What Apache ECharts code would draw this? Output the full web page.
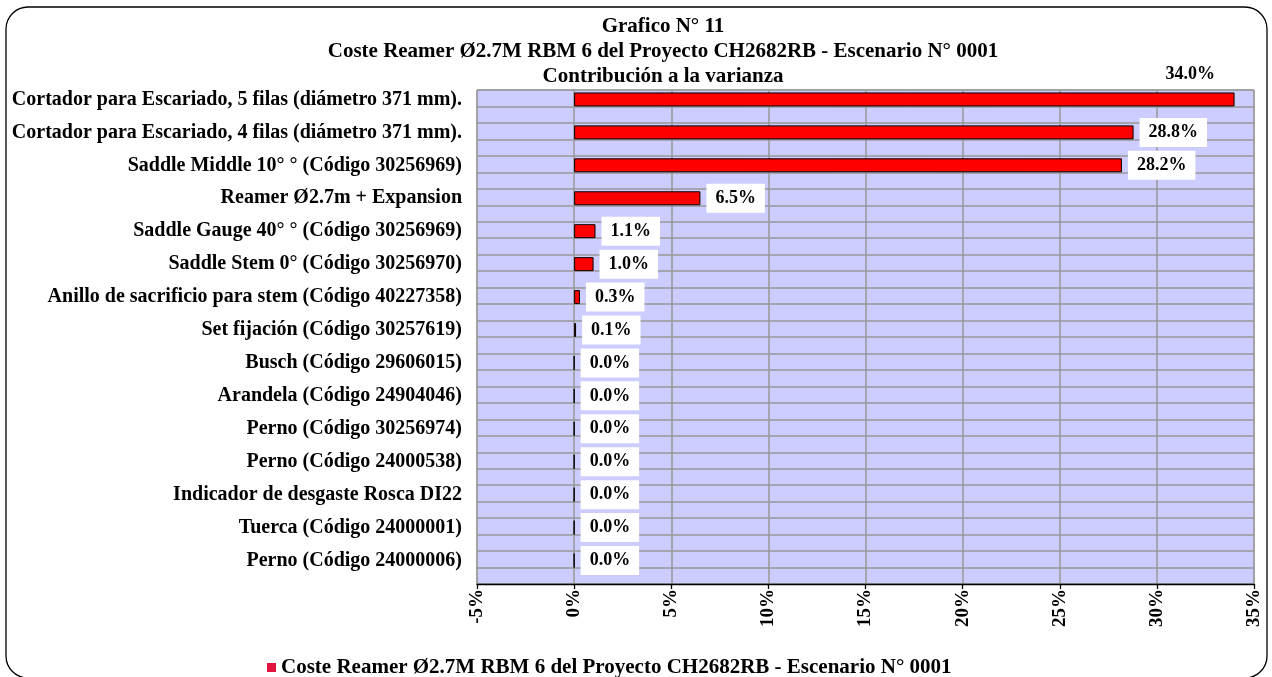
<!DOCTYPE html>
<html>
<head>
<meta charset="utf-8">
<script src="https://cdn.jsdelivr.net/npm/echarts@6/dist/echarts.min.js"></script>
<style>
  html, body { margin: 0; padding: 0; background: #ffffff; }
  #chart { width: 1272px; height: 677px; }
</style>
</head>
<body>
<div id="chart"></div>
<script>
// Cost items, top to bottom
const categories = [
  'Cortador para Escariado, 5 filas (diámetro 371 mm).',
  'Cortador para Escariado, 4 filas (diámetro 371 mm).',
  'Saddle Middle 10° ° (Código 30256969)',
  'Reamer Ø2.7m + Expansion',
  'Saddle Gauge 40° ° (Código 30256969)',
  'Saddle Stem 0° (Código 30256970)',
  'Anillo de sacrificio para stem (Código 40227358)',
  'Set fijación (Código 30257619)',
  'Busch (Código 29606015)',
  'Arandela (Código 24904046)',
  'Perno (Código 30256974)',
  'Perno (Código 24000538)',
  'Indicador de desgaste Rosca DI22',
  'Tuerca (Código 24000001)',
  'Perno (Código 24000006)'
];

// Contribution to variance, percent
const contribution = [34.0, 28.8, 28.2, 6.5, 1.1, 1.0, 0.3, 0.1, 0.0, 0.0, 0.0, 0.0, 0.0, 0.0, 0.0];

const seriesName = 'Coste Reamer Ø2.7M RBM 6 del Proyecto CH2682RB - Escenario N° 0001';
const titleLines = [
  'Grafico N° 11',
  'Coste Reamer Ø2.7M RBM 6 del Proyecto CH2682RB - Escenario N° 0001',
  'Contribución a la varianza'
];

const FONT = '"Liberation Serif", "Times New Roman", serif';

const chart = echarts.init(document.getElementById('chart'), null, { renderer: 'canvas' });

const labelBox = {
  show: true,
  position: 'right',
  distance: 6,
  formatter: p => p.value.toFixed(1) + '%',
  fontFamily: FONT,
  fontWeight: 'bold',
  fontSize: 18,
  color: '#000',
  backgroundColor: '#ffffff',
  padding: [6, 9, 5, 9]
};

const barData = contribution.map((v, i) => {
  if (i === 0) {
    // the largest bar carries its label above the plot area
    return { value: v, label: { position: 'right', offset: [-84, -25], backgroundColor: 'transparent' } };
  }
  return v;
});

chart.setOption({
  animation: false,
  backgroundColor: '#ffffff',
  textStyle: { fontFamily: FONT },
  graphic: [{
    type: 'rect',
    shape: { x: 6, y: 7, width: 1261, height: 671, r: 22 },
    style: { fill: 'none', stroke: '#000', lineWidth: 1.3 },
    silent: true,
    z: -10
  }],
  title: {
    text: titleLines.join('\n'),
    left: 658,
    top: 9,
    textAlign: 'center',
    textStyle: {
      fontFamily: FONT,
      fontWeight: 'bold',
      fontSize: 21,
      lineHeight: 25,
      color: '#000'
    }
  },
  legend: {
    data: [{ name: seriesName, itemStyle: { color: '#E0143C', borderWidth: 0 } }],
    left: 262,
    top: 652,
    icon: 'rect',
    itemWidth: 9,
    itemHeight: 9,
    itemGap: 6,
    textStyle: { fontFamily: FONT, fontWeight: 'bold', fontSize: 21, color: '#000' }
  },
  grid: {
    left: 477,
    right: 18,
    top: 90,
    bottom: 93,
    show: true,
    backgroundColor: '#CCCCFF',
    borderColor: '#999999',
    borderWidth: 1
  },
  xAxis: {
    type: 'value',
    min: -5,
    max: 35,
    interval: 5,
    axisLine: { show: true, onZero: false, lineStyle: { color: '#000', width: 1.3 } },
    axisTick: { show: true, length: 5, lineStyle: { color: '#000', width: 1.3 } },
    axisLabel: {
      rotate: 90,
      margin: 5,
      formatter: v => v + '%',
      fontFamily: FONT,
      fontWeight: 'bold',
      fontSize: 19,
      color: '#000'
    },
    splitLine: { show: true, lineStyle: { color: '#999999', width: 1.5 } }
  },
  yAxis: [{
    type: 'category',
    data: categories,
    inverse: true,
    axisLine: { show: false },
    axisTick: { show: false },
    splitLine: { show: false },
    axisLabel: {
      margin: 15,
      verticalAlign: 'bottom',
      lineHeight: 14,
      fontFamily: FONT,
      fontWeight: 'bold',
      fontSize: 20,
      color: '#000'
    }
  }, {
    // half-row gridlines
    type: 'value',
    min: 0,
    max: 30,
    interval: 1,
    position: 'right',
    axisLine: { show: false },
    axisTick: { show: false },
    axisLabel: { show: false },
    splitLine: { show: true, lineStyle: { color: '#999999', width: 1.5 } }
  }],
  series: [{
    name: seriesName,
    type: 'bar',
    yAxisIndex: 0,
    data: barData,
    barWidth: 14,
    barGap: '0%',
    itemStyle: { color: '#FF0000', borderColor: '#000', borderWidth: 1 },
    label: labelBox,
    z: 3
  }, {
    // empty companion series that occupies the lower slot of each row
    name: 'slot',
    type: 'bar',
    yAxisIndex: 0,
    data: contribution.map(() => null),
    barWidth: 14,
    itemStyle: { color: 'transparent' },
    silent: true
  }]
});
</script>
</body>
</html>
